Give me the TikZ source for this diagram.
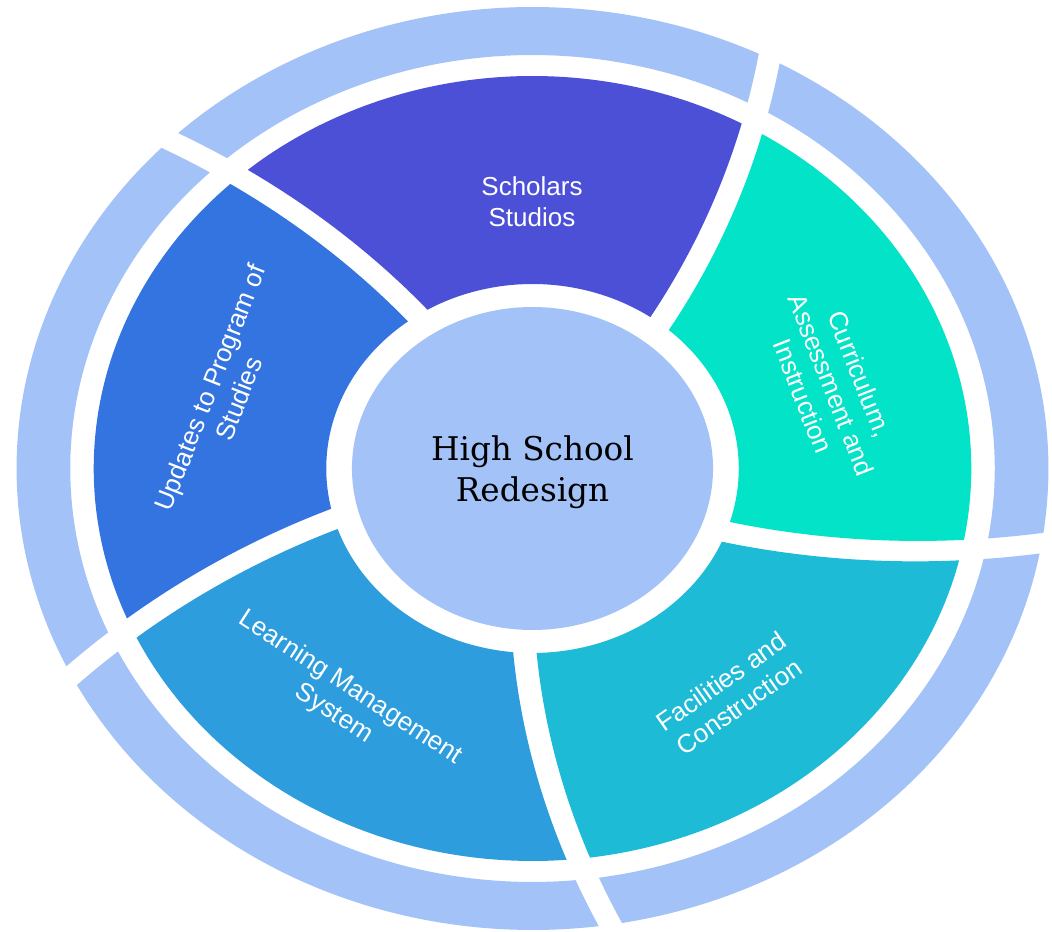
\documentclass[tikz,border=0pt]{standalone}
\usepackage{fontspec}
\newfontfamily\labelfont{Liberation Sans}
\newfontfamily\titlefont{DejaVu Serif}

\definecolor{colring}{HTML}{A3C2F7}
\definecolor{colscholars}{HTML}{4C50D6}
\definecolor{colupdates}{HTML}{3474E0}
\definecolor{collms}{HTML}{2D9DDE}
\definecolor{colfacil}{HTML}{1DBBD6}
\definecolor{colcurric}{HTML}{02E3C8}

% twist of the dividing curves (degrees per unit of radius) and half gap width
\newcommand\swTwist{0.039}
\newcommand\swHalfGap{10.5}

% one piece of a ring between two swirling dividers
% #1 angle of the first divider at r=185, #2 inner radius, #3 outer radius, #4 colour
\newcommand\swirlpiece[4]{%
  \pgfmathsetmacro\swA{#1}%
  \pgfmathsetmacro\swB{#1+72}%
  \pgfmathsetmacro\swOutS{\swA+\swTwist*(#3-185)+\swHalfGap*57.29578/#3}%
  \pgfmathsetmacro\swOutE{\swB+\swTwist*(#3-185)-\swHalfGap*57.29578/#3}%
  \pgfmathsetmacro\swInS{\swB+\swTwist*(#2-185)-\swHalfGap*57.29578/#2}%
  \pgfmathsetmacro\swInE{\swA+\swTwist*(#2-185)+\swHalfGap*57.29578/#2}%
  \fill[fill=#4]
    plot[domain=#2:#3, samples=30, variable=\myr]
      ({\swA+\swTwist*(\myr-185)+\swHalfGap*57.29578/\myr}:\myr)
    -- plot[domain=\swOutS:\swOutE, samples=80, variable=\myt] (\myt:#3)
    -- plot[domain=#3:#2, samples=30, variable=\myr]
      ({\swB+\swTwist*(\myr-185)-\swHalfGap*57.29578/\myr}:\myr)
    -- plot[domain=\swInS:\swInE, samples=50, variable=\myt] (\myt:#2)
    -- cycle;
}

\begin{document}
\begin{tikzpicture}[x=0.75pt, y=0.75pt,
  labeltext/.style={text=white, align=center, inner sep=0pt,
    font=\labelfont\fontsize{19.5}{23}\selectfont},
  titletext/.style={text=black, align=center, inner sep=0pt,
    font=\titlefont\fontsize{24.5}{30.75}\selectfont}]

\fill[white] (0,0) rectangle (1052,931);
\useasboundingbox (0,0) rectangle (1052,931);

\begin{scope}[shift={(532.5,462.5)}, xscale=1.118]
  % middle ring and outer ring, cut by five swirling gaps
  \foreach \g/\c in {51.9/colscholars, 123.9/colupdates, 195.9/collms,
                     267.9/colfacil, 339.9/colcurric}{
    \swirlpiece{\g}{184.5}{392.5}{\c}
    \swirlpiece{\g}{413.5}{461.5}{colring}
  }
  % hub
  \fill[colring] plot[domain=0:360, samples=240, variable=\myt] (\myt:161.5) -- cycle;
\end{scope}

\node[titletext] (title) at (532.5,459) {High School\\Redesign};
\node[labeltext] (scholars) at (532,729) {Scholars\\Studios};
\node[labeltext, rotate=68.6] (updates) at (224,538) {Updates to Program of\\Studies};
\node[labeltext, rotate=-68.5] (curric) at (831.5,546) {Curriculum,\\Assessment and\\Instruction};
\node[labeltext, rotate=-33] (lms) at (342,230) {Learning Management\\System};
\node[labeltext, rotate=35] (facil) at (730,237) {Facilities and\\Construction};
\end{tikzpicture}
\end{document}
